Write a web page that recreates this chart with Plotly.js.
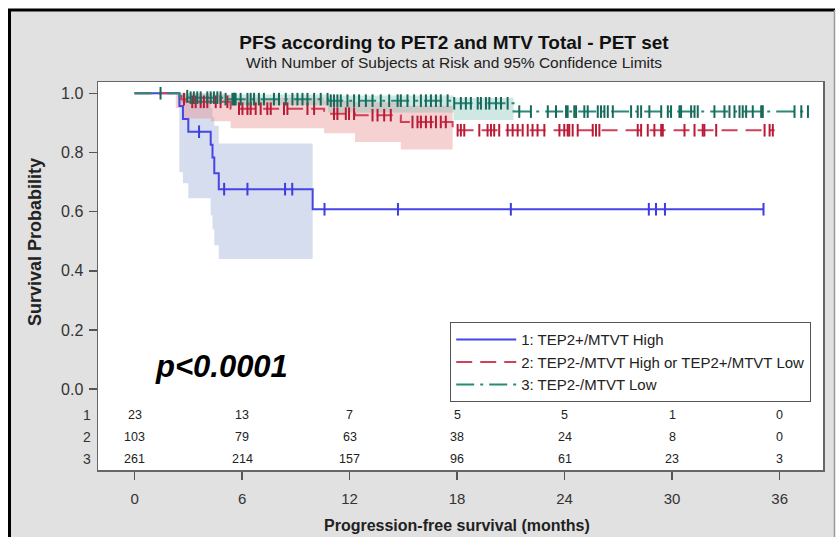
<!DOCTYPE html>
<html><head><meta charset="utf-8">
<script src="https://cdn.plot.ly/plotly-3.0.1.min.js"></script>
<style>html,body{margin:0;padding:0;background:#fff}#chart{width:838px;height:537px}</style>
</head><body><div id="chart"></div>
<script>
// ---------- data ----------
const groupNames = ["1: TEP2+/MTVT High", "2: TEP2-/MTVT High or TEP2+/MTVT Low", "3: TEP2-/MTVT Low"];

// Kaplan-Meier step curves (time in months, survival probability)
const g1Times = [0, 2.5, 2.7, 3.0, 4.25, 4.35, 4.45, 4.7, 9.94, 35.1];
const g1Surv  = [1.0, 0.957, 0.913, 0.87, 0.826, 0.783, 0.73, 0.676, 0.608, 0.608];
const g2Times = [0, 2.3, 2.6, 2.9, 5.36, 10.58, 12.3, 14.86, 17.75, 35.72];
const g2Surv  = [1.0, 0.99, 0.98, 0.971, 0.948, 0.931, 0.926, 0.903, 0.875, 0.875];
const g3Times = [0, 2.5, 3.0, 5.0, 10.8, 17.8, 21.15, 37.6];
const g3Surv  = [1.0, 0.99, 0.985, 0.98, 0.975, 0.966, 0.938, 0.938];

// 95% confidence bands (step values; last element of *BandTimes is the band end)
const g1BandTimes = [2.5, 2.7, 3.0, 4.25, 4.35, 4.45, 4.7, 9.94];
const g1Upper = [0.99, 0.99, 0.97, 0.95, 0.92, 0.89, 0.83];
const g1Lower = [0.733, 0.696, 0.645, 0.588, 0.54, 0.486, 0.44];
const g2BandTimes = [2.3, 2.7, 4.25, 5.36, 10.58, 12.3, 14.86, 17.75];
const g2Upper = [1.0, 0.998, 0.995, 0.985, 0.975, 0.97, 0.958];
const g2Lower = [0.95, 0.915, 0.905, 0.882, 0.865, 0.835, 0.81];
const g3BandTimes = [2.5, 5.0, 10.8, 17.8, 21.15];
const g3Upper = [1.0, 0.996, 0.992, 0.984];
const g3Lower = [0.97, 0.96, 0.935, 0.91];

// censored observations (months)
const g1Censor = [3.6, 5.0, 6.3, 8.4, 8.8, 10.6, 14.7, 21.0, 28.7, 29.1, 29.6, 35.1];
const g2Censor = [2.76, 3.22, 3.41, 3.69, 3.87, 4.06, 4.53, 4.80, 5.18, 5.83, 6.02, 6.30, 6.48, 6.76, 7.04, 7.41, 7.60, 8.34, 8.53, 9.65, 10.02, 11.13, 11.32, 11.79, 11.97, 12.25, 13.28, 13.56, 13.93, 14.30, 15.51, 15.79, 15.98, 16.26, 16.54, 16.82, 17.09, 17.37, 18.03, 18.21, 18.40, 19.24, 19.70, 19.89, 20.07, 20.35, 20.82, 21.10, 21.38, 21.66, 21.94, 22.21, 22.49, 22.87, 23.71, 23.98, 24.17, 24.26, 24.45, 24.73, 25.57, 25.75, 25.94, 28.08, 28.27, 28.64, 29.01, 29.39, 29.48, 30.69, 31.25, 31.71, 31.80, 32.46, 35.16, 35.44, 35.62];
const g3Censor = [1.45, 2.94, 3.13, 3.31, 3.50, 3.69, 4.06, 4.25, 4.43, 4.62, 4.80, 5.08, 5.46, 5.55, 5.64, 5.92, 6.30, 6.48, 6.67, 6.94, 7.22, 7.78, 8.06, 8.44, 8.81, 9.09, 9.37, 9.65, 10.02, 10.39, 10.77, 10.95, 11.13, 11.32, 11.51, 11.88, 12.25, 12.53, 12.91, 13.28, 13.74, 14.21, 14.68, 14.86, 15.23, 15.60, 15.98, 16.26, 16.54, 16.82, 17.09, 17.47, 17.84, 18.21, 18.49, 18.77, 19.15, 19.33, 19.61, 19.80, 20.17, 20.45, 20.82, 21.47, 22.12, 23.06, 23.52, 24.08, 24.17, 24.54, 24.64, 25.10, 25.29, 25.85, 26.03, 26.22, 26.41, 26.69, 27.71, 28.08, 28.27, 28.73, 29.39, 29.76, 29.94, 30.41, 30.50, 31.06, 31.25, 31.43, 32.36, 32.92, 33.20, 33.48, 33.76, 33.94, 34.13, 34.50, 34.97, 35.06, 36.83, 37.21, 37.58];

// number at risk table
const riskTimes = [0, 6, 12, 18, 24, 30, 36];
const risk1 = [23, 13, 7, 5, 5, 1, 0];
const risk2 = [103, 79, 63, 38, 24, 8, 0];
const risk3 = [261, 214, 157, 96, 61, 23, 3];
const riskRowLabels = ["1", "2", "3"];

const yTickVals = [0, 0.2, 0.4, 0.6, 0.8, 1.0];
const yTickText = ["0.0", "0.2", "0.4", "0.6", "0.8", "1.0"];
const xTickVals = [0, 6, 12, 18, 24, 30, 36];

// ---------- helpers ----------
function survAt(times, surv, t) {
  let v = surv[0];
  for (let i = 0; i < times.length; i++) { if (times[i] <= t) v = surv[i]; }
  return v;
}
function bandPoly(times, up, lo) {
  const xs = [], ys = [];
  for (let i = 0; i < up.length; i++) { xs.push(times[i], times[i + 1]); ys.push(up[i], up[i]); }
  for (let i = lo.length - 1; i >= 0; i--) { xs.push(times[i + 1], times[i]); ys.push(lo[i], lo[i]); }
  xs.push(times[0]); ys.push(up[0]);
  return { x: xs, y: ys };
}

const FONT = "Liberation Sans, Arial, Helvetica, sans-serif";
const colors = {
  line: ["#4646e6", "#d0405a", "#2a8a78"],
  mark: ["#3c3ce0", "#b81c36", "#17695b"],
  band: ["rgba(150,170,215,0.40)", "rgba(232,140,140,0.40)", "rgba(110,185,170,0.32)"]
};
const dashes = ["solid", "16px,8px", "18px,6px,3px,6px"];

const curves = [
  { t: g1Times, s: g1Surv, bt: g1BandTimes, bu: g1Upper, bl: g1Lower, c: g1Censor },
  { t: g2Times, s: g2Surv, bt: g2BandTimes, bu: g2Upper, bl: g2Lower, c: g2Censor },
  { t: g3Times, s: g3Surv, bt: g3BandTimes, bu: g3Upper, bl: g3Lower, c: g3Censor }
];

const traces = [];
curves.forEach((cv, i) => {
  const p = bandPoly(cv.bt, cv.bu, cv.bl);
  traces.push({ x: p.x, y: p.y, type: "scatter", mode: "lines", fill: "toself",
    fillcolor: colors.band[i], line: { width: 0 }, hoverinfo: "skip", showlegend: false });
});
curves.forEach((cv, i) => {
  traces.push({ x: cv.t, y: cv.s, type: "scatter", mode: "lines", name: groupNames[i],
    line: { shape: "hv", color: colors.line[i], width: 2, dash: dashes[i] }, showlegend: true });
});
curves.forEach((cv, i) => {
  traces.push({ x: cv.c, y: cv.c.map(t => survAt(cv.t, cv.s, t)), type: "scatter", mode: "markers",
    marker: { symbol: "line-ns-open", size: 9, line: { width: 2, color: colors.mark[i] }, color: colors.mark[i] },
    showlegend: false, hoverinfo: "x+y" });
});

// plot area in px: x 98..823, y 82..470
const px2paperX = px => (px - 98) / 725;
const px2paperY = py => (470 - py) / 388;

const annotations = [];
const riskRows = [risk1, risk2, risk3];
const riskY = [-0.087, -0.161, -0.235];
riskRows.forEach((row, r) => {
  row.forEach((v, k) => annotations.push({ x: riskTimes[k], y: riskY[r], xref: "x", yref: "y",
    xanchor: "center", yanchor: "middle",
    text: String(v), showarrow: false, font: { family: FONT, size: 12.5, color: "#222" } }));
  annotations.push({ x: px2paperX(93), y: riskY[r], xref: "paper", yref: "y", xanchor: "right", yanchor: "middle",
    text: riskRowLabels[r], showarrow: false, font: { family: FONT, size: 14, color: "#333" } });
});
annotations.push({ x: px2paperX(454), y: px2paperY(63), xref: "paper", yref: "paper", xanchor: "center", yanchor: "middle",
  text: "With Number of Subjects at Risk and 95% Confidence Limits", showarrow: false,
  font: { family: FONT, size: 15.5, color: "#222" } });
annotations.push({ x: px2paperX(35), y: px2paperY(242), xref: "paper", yref: "paper", textangle: -90,
  xanchor: "center", yanchor: "middle",
  text: "Survival Probability", showarrow: false,
  font: { family: FONT, size: 18, color: "#222", weight: "bold" } });
annotations.push({ x: px2paperX(457), y: px2paperY(525), xref: "paper", yref: "paper", xanchor: "center", yanchor: "middle",
  text: "Progression-free survival (months)", showarrow: false,
  font: { family: FONT, size: 16, color: "#222", weight: "bold" } });
annotations.push({ x: px2paperX(221), y: px2paperY(366), xref: "paper", yref: "paper", xanchor: "center", yanchor: "middle",
  text: "p&lt;0.0001", showarrow: false,
  font: { family: FONT, size: 31, color: "#000", weight: "bold", style: "italic" } });

const shapes = [
  { type: "rect", xref: "paper", yref: "paper", x0: -0.3, x1: 1.2, y0: px2paperY(10), y1: px2paperY(-20), fillcolor: "#fff", line: { width: 0 } },
  { type: "rect", xref: "paper", yref: "paper", x0: -0.3, x1: px2paperX(9), y0: px2paperY(560), y1: px2paperY(10), fillcolor: "#fff", line: { width: 0 } },
  { type: "rect", xref: "paper", yref: "paper", x0: px2paperX(835), x1: 1.2, y0: px2paperY(560), y1: px2paperY(10), fillcolor: "#fff", line: { width: 0 } },
  { type: "line", xref: "paper", yref: "paper", x0: px2paperX(8), x1: px2paperX(835), y0: px2paperY(10), y1: px2paperY(10), line: { color: "#000", width: 3 } },
  { type: "line", xref: "paper", yref: "paper", x0: px2paperX(9.5), x1: px2paperX(9.5), y0: px2paperY(560), y1: px2paperY(10), line: { color: "#000", width: 3 } },
  { type: "line", xref: "paper", yref: "paper", x0: px2paperX(834.5), x1: px2paperX(834.5), y0: px2paperY(560), y1: px2paperY(10), line: { color: "#9a9a9a", width: 1.5 } }
];

const layout = {
  width: 838, height: 537,
  margin: { l: 98, r: 15, t: 82, b: 67 },
  paper_bgcolor: "#e1e1e1", plot_bgcolor: "#ffffff",
  font: { family: FONT, color: "#222" },
  title: { text: "PFS according to PET2 and MTV Total - PET set", xref: "paper", x: px2paperX(454), xanchor: "center",
    yref: "container", y: 1 - 42 / 537, yanchor: "middle", font: { family: FONT, size: 19, color: "#111", weight: "bold" } },
  xaxis: { range: [-2.04, 38.42], tickvals: xTickVals, ticks: "outside", ticklen: 8, tickwidth: 1.5, tickcolor: "#555",
    showline: true, mirror: true, linecolor: "#666", linewidth: 1.5, showgrid: false, zeroline: false,
    tickfont: { family: FONT, size: 15, color: "#333" }, ticklabelstandoff: 6 },
  yaxis: { range: [-0.273, 1.038], tickvals: yTickVals, ticktext: yTickText, ticks: "outside", ticklen: 8, tickwidth: 1.5,
    tickcolor: "#555", showline: true, mirror: true, linecolor: "#666", linewidth: 1.5, showgrid: false, zeroline: false,
    tickfont: { family: FONT, size: 16, color: "#333" }, ticklabelstandoff: 2 },
  showlegend: true,
  legend: { x: px2paperX(450), y: px2paperY(322), xanchor: "left", yanchor: "top", bgcolor: "#fff",
    bordercolor: "#555", borderwidth: 1.2, font: { family: FONT, size: 15, color: "#222" },
    itemwidth: 60, tracegroupgap: 0 },
  annotations: annotations,
  shapes: shapes
};

Plotly.newPlot("chart", traces, layout, { staticPlot: true, displayModeBar: false });
</script>
</body></html>
